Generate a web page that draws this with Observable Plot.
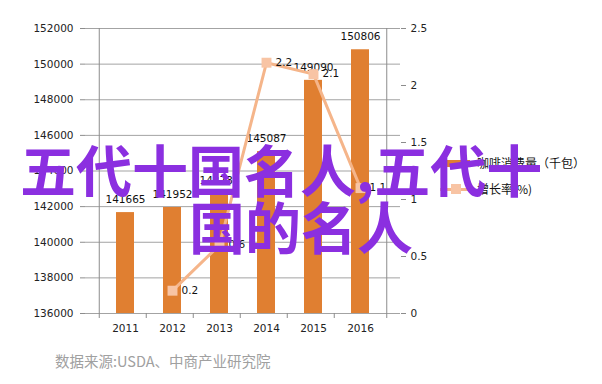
<!DOCTYPE html>
<html>
<head>
<meta charset="utf-8">
<script src="https://cdn.jsdelivr.net/npm/d3@7"></script>
<script src="https://cdn.jsdelivr.net/npm/@observablehq/plot@0.6"></script>
<style>
  html, body { margin: 0; padding: 0; background: #fff; }
  #wrap { position: relative; width: 602px; height: 384px; overflow: hidden; }
  .abs { position: absolute; white-space: nowrap; }
  .wm { font-family: "Noto Sans CJK SC"; font-weight: 700; font-size: 56px; line-height: 56px; color: #8b2fe0; }
  .leg { font-family: "Noto Sans CJK SC"; font-size: 12px; line-height: 14px; color: #111; }
  .src { font-family: "Noto Sans CJK SC"; font-size: 14.5px; color: #a0a0a0; }
</style>
</head>
<body>
<div id="wrap"></div>
<script>
// ---- data ----
const years = ["2011", "2012", "2013", "2014", "2015", "2016"];
const consumption = [141665, 141952, 142736, 145087, 149090, 150806];
const growthYears = ["2012", "2013", "2014", "2015", "2016"];
const growth = [0.2, 0.6, 2.2, 2.1, 1.1];
const leftTicks = [136000, 138000, 140000, 142000, 144000, 146000, 148000, 150000, 152000];
const rightTicks = [0, 0.5, 1, 1.5, 2, 2.5];
const seriesNames = ["咖啡消费量（千包）", "增长率(%)"];
const sourceText = "数据来源:USDA、中商产业研究院";
const overlayLines = ["五代十国名人,五代十", "国的名人"];

// ---- tables ----
const bars = years.map((y, i) => ({year: y, value: consumption[i]}));
const yMin = leftTicks[0], yMax = leftTicks[leftTicks.length - 1];
const rMax = rightTicks[rightTicks.length - 1];
const toLeft = v => yMin + v * (yMax - yMin) / rMax;
const fromLeft = d => (d - yMin) * rMax / (yMax - yMin);
const line = growthYears.map((y, i) => ({year: y, value: growth[i], yv: toLeft(growth[i])}));

const barColor = "#e07f31";
const lineColor = "#f5b58a";
const markColor = "#f8c4a4";
const half = 315 / years.length / 2;
const below = yMin - (yMax - yMin) * 5 / 285;

const chart = Plot.plot({
  width: 602,
  height: 384,
  marginLeft: 85,
  marginRight: 202,
  marginTop: 28,
  marginBottom: 71,
  style: {fontFamily: "DejaVu Sans, Verdana, sans-serif", fontSize: "10.5px", color: "#222", background: "transparent"},
  x: {type: "band", domain: years, padding: 0.62, align: 0.5},
  y: {domain: [yMin, yMax]},
  marks: [
    Plot.ruleY(leftTicks, {stroke: "#a3a3a3", strokeWidth: 1}),
    Plot.ruleX([years[0]], {y1: yMin, y2: yMax, dx: -half, stroke: "#8c8c8c"}),
    Plot.ruleX([years[years.length - 1]], {y1: yMin, y2: yMax, dx: half, stroke: "#8c8c8c"}),
    Plot.ruleX(years, {y1: below, y2: yMin, dx: -half, stroke: "#8c8c8c"}),
    Plot.ruleX([years[years.length - 1]], {y1: below, y2: yMin, dx: half, stroke: "#8c8c8c"}),
    Plot.axisY({ticks: leftTicks, tickFormat: d3.format("d"), tickSize: 5, tickPadding: 7, label: null, stroke: "#8c8c8c", fill: "#222"}),
    Plot.axisY({anchor: "right", ticks: rightTicks.map(toLeft), tickFormat: d => String(+fromLeft(d).toFixed(1)), tickSize: 5, tickPadding: 5, label: null, stroke: "#8c8c8c", fill: "#222"}),
    Plot.axisX({tickSize: 0, tickPadding: 11, label: null, fill: "#222"}),
    Plot.barY(bars, {x: "year", y1: yMin, y2: "value", fill: barColor}),
    Plot.text(bars, {x: "year", y: "value", text: d => String(d.value), dy: -13, fill: "#111"}),
    Plot.line(line, {x: "year", y: "yv", stroke: lineColor, strokeWidth: 3}),
    Plot.dot(line, {x: "year", y: "yv", symbol: "square", r: 5.6, fill: markColor, stroke: "none"}),
    Plot.text(line, {x: "year", y: "yv", text: d => String(d.value), dx: 9, textAnchor: "start", fill: "#111"})
  ]
});

const wrap = document.getElementById("wrap");
chart.style.position = "absolute";
chart.style.left = "0px";
chart.style.top = "0px";
wrap.appendChild(chart);

// legend
function addDiv(cls, html, left, top) {
  const d = document.createElement("div");
  d.className = "abs " + cls;
  d.innerHTML = html;
  d.style.left = left + "px";
  d.style.top = top + "px";
  wrap.appendChild(d);
  return d;
}
const sw1 = addDiv("", "", 442, 160);
sw1.style.width = "28px"; sw1.style.height = "7px"; sw1.style.background = barColor;
addDiv("leg", seriesNames[0], 477, 156);
const sw2 = addDiv("", "", 440, 188);
sw2.style.width = "32px"; sw2.style.height = "3px"; sw2.style.background = lineColor;
const sw2m = addDiv("", "", 451, 184);
sw2m.style.width = "10px"; sw2m.style.height = "10px"; sw2m.style.background = markColor;
addDiv("leg", seriesNames[1], 477, 182);

// source
addDiv("src", sourceText, 55, 350);

// overlay text
addDiv("wm", overlayLines[0], 20, 140);
addDiv("wm", overlayLines[1], 189, 197);
</script>
</body>
</html>
